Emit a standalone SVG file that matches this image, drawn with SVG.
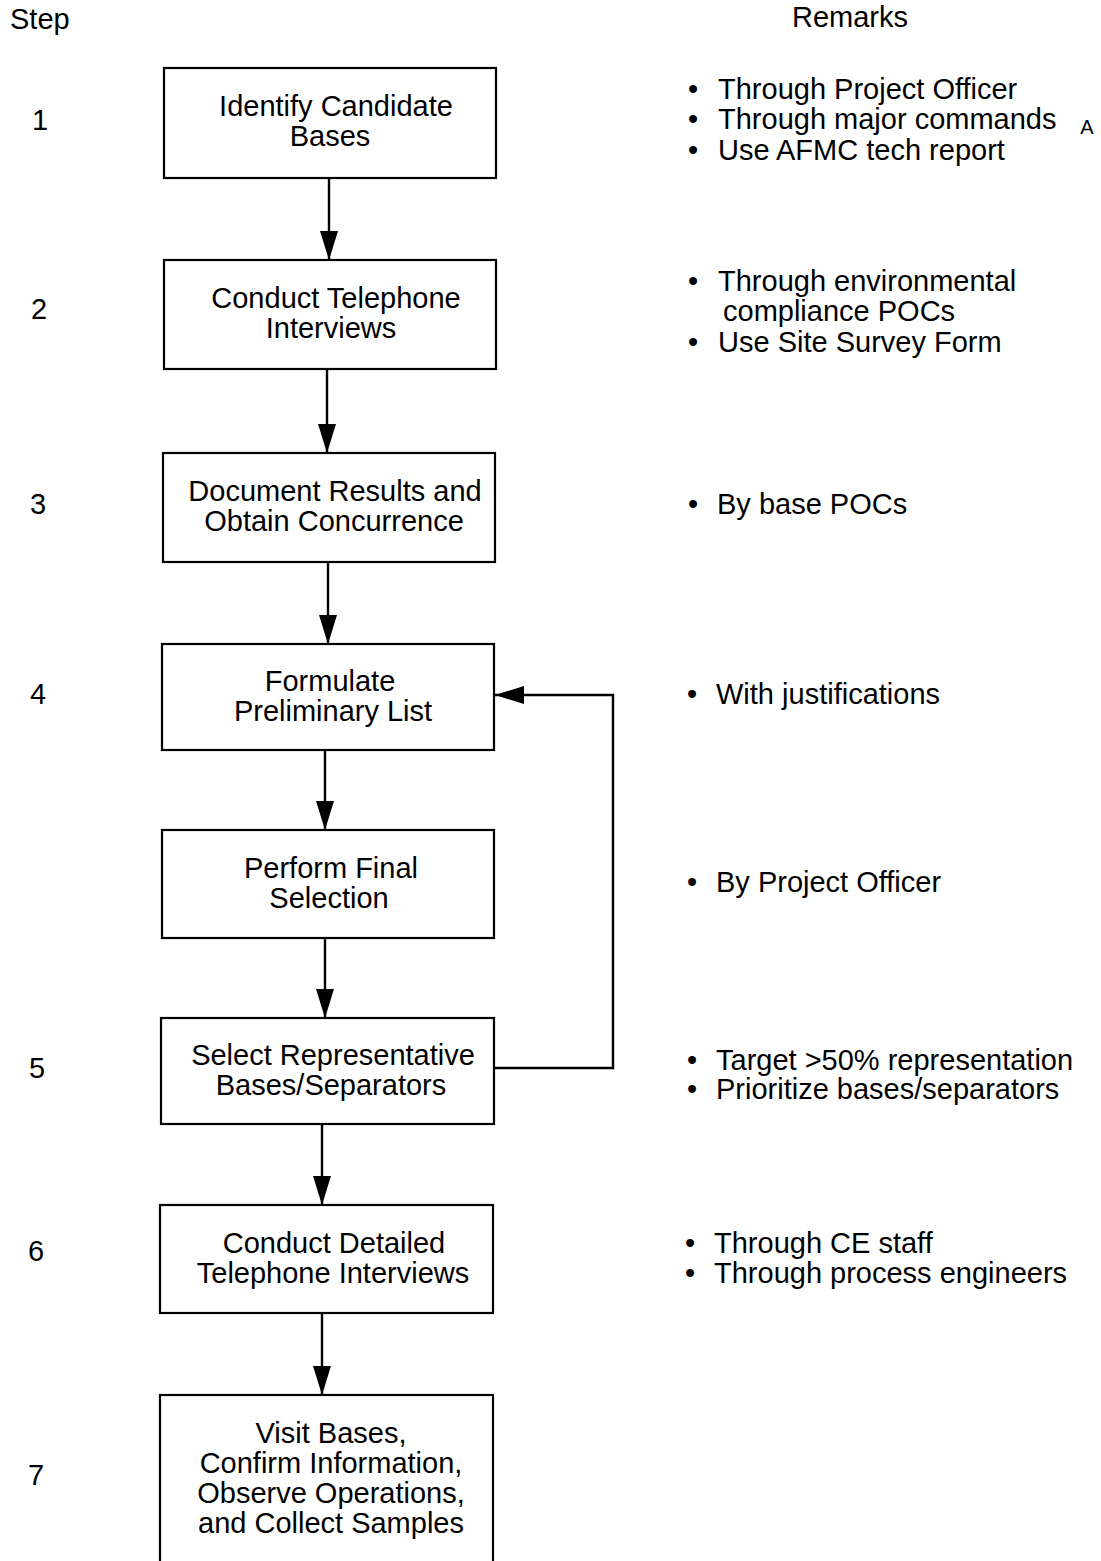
<svg xmlns="http://www.w3.org/2000/svg" width="1101" height="1561" viewBox="0 0 1101 1561">
<style>
text{font-family:"Liberation Sans",Arial,sans-serif;font-size:29px;fill:#000}
.c{text-anchor:middle}
.box{fill:#fff;stroke:#000;stroke-width:2.2}
.ln{fill:none;stroke:#000;stroke-width:2.4}
.sm{font-size:20px}
</style>
<defs>
<marker id="ah" markerUnits="userSpaceOnUse" markerWidth="30" markerHeight="20" refX="29" refY="9" orient="auto">
<path d="M0,0 L29,9 L0,18 z" fill="#000"/>
</marker>
</defs>
<rect width="1101" height="1561" fill="#fff"/>
<text x="10" y="29">Step</text>
<text x="850" y="27" class="c">Remarks</text>

<g id="steps">
<text x="40" y="130" class="c">1</text>
<text x="39" y="319" class="c">2</text>
<text x="38" y="514" class="c">3</text>
<text x="38" y="704" class="c">4</text>
<text x="37" y="1078" class="c">5</text>
<text x="36" y="1261" class="c">6</text>
<text x="36" y="1485" class="c">7</text>
</g>

<g id="connectors">
<path class="ln" d="M329,178 V260" marker-end="url(#ah)"/>
<path class="ln" d="M327,369 V453" marker-end="url(#ah)"/>
<path class="ln" d="M328,562 V644" marker-end="url(#ah)"/>
<path class="ln" d="M325,750 V830" marker-end="url(#ah)"/>
<path class="ln" d="M325,938 V1018" marker-end="url(#ah)"/>
<path class="ln" d="M322,1124 V1205" marker-end="url(#ah)"/>
<path class="ln" d="M322,1313 V1395" marker-end="url(#ah)"/>
<path class="ln" d="M494,1068 H613 V695 H495" marker-end="url(#ah)"/>
</g>

<g id="n1"><rect class="box" x="164" y="68" width="332" height="110"/>
<text x="336" y="116" class="c">Identify Candidate</text><text x="330" y="146" class="c">Bases</text></g>
<g id="n2"><rect class="box" x="164" y="260" width="332" height="109"/>
<text x="336" y="308" class="c">Conduct Telephone</text><text x="331" y="338" class="c">Interviews</text></g>
<g id="n3"><rect class="box" x="163" y="453" width="332" height="109"/>
<text x="335" y="501" class="c">Document Results and</text><text x="334" y="531" class="c">Obtain Concurrence</text></g>
<g id="n4"><rect class="box" x="162" y="644" width="332" height="106"/>
<text x="330" y="691" class="c">Formulate</text><text x="333" y="721" class="c">Preliminary List</text></g>
<g id="n5"><rect class="box" x="162" y="830" width="332" height="108"/>
<text x="331" y="878" class="c">Perform Final</text><text x="329" y="908" class="c">Selection</text></g>
<g id="n6"><rect class="box" x="161" y="1018" width="333" height="106"/>
<text x="333" y="1065" class="c">Select Representative</text><text x="331" y="1095" class="c">Bases/Separators</text></g>
<g id="n7"><rect class="box" x="160" y="1205" width="333" height="108"/>
<text x="334" y="1253" class="c">Conduct Detailed</text><text x="333" y="1283" class="c">Telephone Interviews</text></g>
<g id="n8"><rect class="box" x="160" y="1395" width="333" height="180"/>
<text x="331" y="1443" class="c">Visit Bases,</text><text x="331" y="1473" class="c">Confirm Information,</text>
<text x="331" y="1503" class="c">Observe Operations,</text><text x="331" y="1533" class="c">and Collect Samples</text></g>

<g id="remarks">
<text x="688" y="99">•</text><text x="718" y="99">Through Project Officer</text>
<text x="688" y="129">•</text><text x="718" y="129">Through major commands</text>
<text x="688" y="160">•</text><text x="718" y="160">Use AFMC tech report</text>
<text x="1087" y="134" class="c sm">A</text>

<text x="688" y="291">•</text><text x="718" y="291">Through environmental</text>
<text x="723" y="321">compliance POCs</text>
<text x="688" y="352">•</text><text x="718" y="352">Use Site Survey Form</text>

<text x="688" y="514">•</text><text x="717" y="514">By base POCs</text>

<text x="687" y="704">•</text><text x="716" y="704">With justifications</text>

<text x="687" y="892">•</text><text x="716" y="892">By Project Officer</text>

<text x="687" y="1070">•</text><text x="716" y="1070">Target &gt;50% representation</text>
<text x="687" y="1099">•</text><text x="716" y="1099">Prioritize bases/separators</text>

<text x="685" y="1253">•</text><text x="714" y="1253">Through CE staff</text>
<text x="685" y="1283">•</text><text x="714" y="1283">Through process engineers</text>
</g>
</svg>
